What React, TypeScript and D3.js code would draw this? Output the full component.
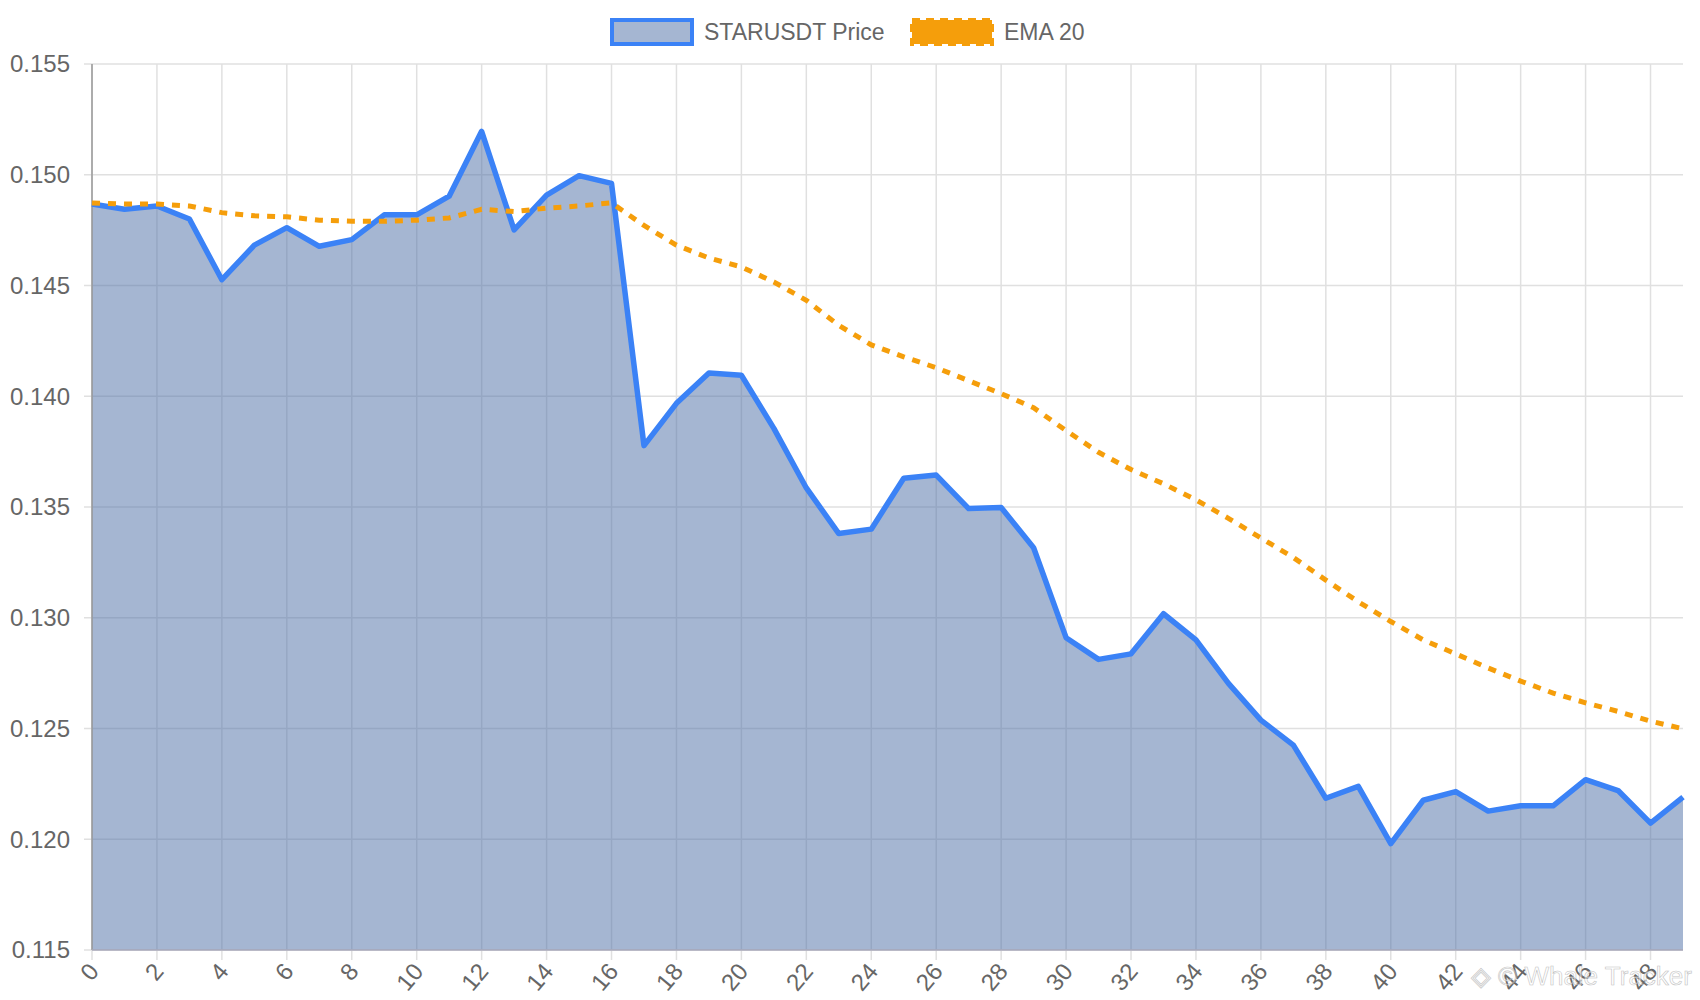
import React from "react";
import * as d3 from "d3";

const price = [0.14868,0.14844,0.14859,0.14800,0.14526,0.14682,0.14761,0.14677,0.14707,0.14819,0.14819,0.14903,0.15196,0.14751,0.14908,0.14996,0.14961,0.13777,0.13968,0.14105,0.14095,0.13855,0.13586,0.13380,0.13400,0.13630,0.13644,0.13493,0.13498,0.13316,0.12910,0.12812,0.12837,0.13018,0.12900,0.12704,0.12538,0.12425,0.12185,0.12239,0.11980,0.12176,0.12215,0.12127,0.12151,0.12151,0.12269,0.12220,0.12073,0.12190];
const ema = [0.14873,0.14868,0.14868,0.14859,0.14829,0.14815,0.14810,0.14795,0.14790,0.14790,0.14795,0.14805,0.14844,0.14834,0.14849,0.14859,0.14873,0.14771,0.14682,0.14624,0.14584,0.14516,0.14433,0.14320,0.14232,0.14178,0.14129,0.14070,0.14012,0.13948,0.13845,0.13747,0.13669,0.13605,0.13532,0.13449,0.13360,0.13272,0.13170,0.13072,0.12983,0.12900,0.12837,0.12773,0.12714,0.12660,0.12616,0.12577,0.12533,0.12499];
const yTicks = [0.115,0.12,0.125,0.13,0.135,0.14,0.145,0.15,0.155];
const xTicks = d3.range(0, 49, 2);

export default function App() {
  const W = 1700, H = 1000, L = 92, R = 1683, T = 64, B = 950;
  const x = d3.scaleLinear().domain([0, price.length - 1]).range([L, R]);
  const y = d3.scaleLinear().domain([0.115, 0.155]).range([B, T]);
  const line = d3.line<number>().x((_, i) => x(i)).y(d => y(d));
  const area = d3.area<number>().x((_, i) => x(i)).y0(B).y1(d => y(d));
  const font = "Liberation Sans, Arial, sans-serif";
  return (
    <svg width={W} height={H} style={{ position: "absolute", left: 0, top: 0 }} fontFamily={font}>
      {yTicks.map(t => (
        <g key={t}>
          <line x1={L - 8} x2={R} y1={y(t)} y2={y(t)} stroke="#e0e0e0" strokeWidth={1.5} />
          <text x={L - 22} y={y(t)} dy="0.35em" textAnchor="end" fontSize={24} fill="#666">{t.toFixed(3)}</text>
        </g>
      ))}
      {xTicks.map(t => (
        <g key={t}>
          <line x1={x(t)} x2={x(t)} y1={T} y2={B + 10} stroke="#e0e0e0" strokeWidth={1.5} />
          <text transform={`translate(${x(t) + 8},${B + 22}) rotate(-50)`} textAnchor="end" fontSize={24} fill="#666">{t}</text>
        </g>
      ))}
      <path d={area(price)!} fill="rgba(75,110,165,0.5)" />
      <line x1={L} x2={L} y1={T} y2={B} stroke="#999" strokeWidth={1.5} />
      <line x1={L} x2={R} y1={B} y2={B} stroke="#aab" strokeWidth={1.5} />
      <path d={line(price)!} fill="none" stroke="#3b82f6" strokeWidth={5.5} strokeLinejoin="round" />
      <path d={line(ema)!} fill="none" stroke="#f59e0b" strokeWidth={5} strokeDasharray="8,8" />
      <g>
        <rect x={612} y={20} width={80} height={24} fill="rgba(75,110,165,0.5)" stroke="#3b82f6" strokeWidth={4} />
        <text x={704} y={32} dy="0.35em" fontSize={23} fill="#666">STARUSDT Price</text>
        <rect x={912} y={20} width={80} height={24} fill="#f59e0b" stroke="#f59e0b" strokeWidth={4} strokeDasharray="8,6" />
        <text x={1004} y={32} dy="0.35em" fontSize={23} fill="#666">EMA 20</text>
      </g>
      <text x={1692} y={985} textAnchor="end" fontSize={26} fill="#fff" opacity={0.6} stroke="#999" strokeWidth={0.6}>◈ © Whale Tracker</text>
    </svg>
  );
}
